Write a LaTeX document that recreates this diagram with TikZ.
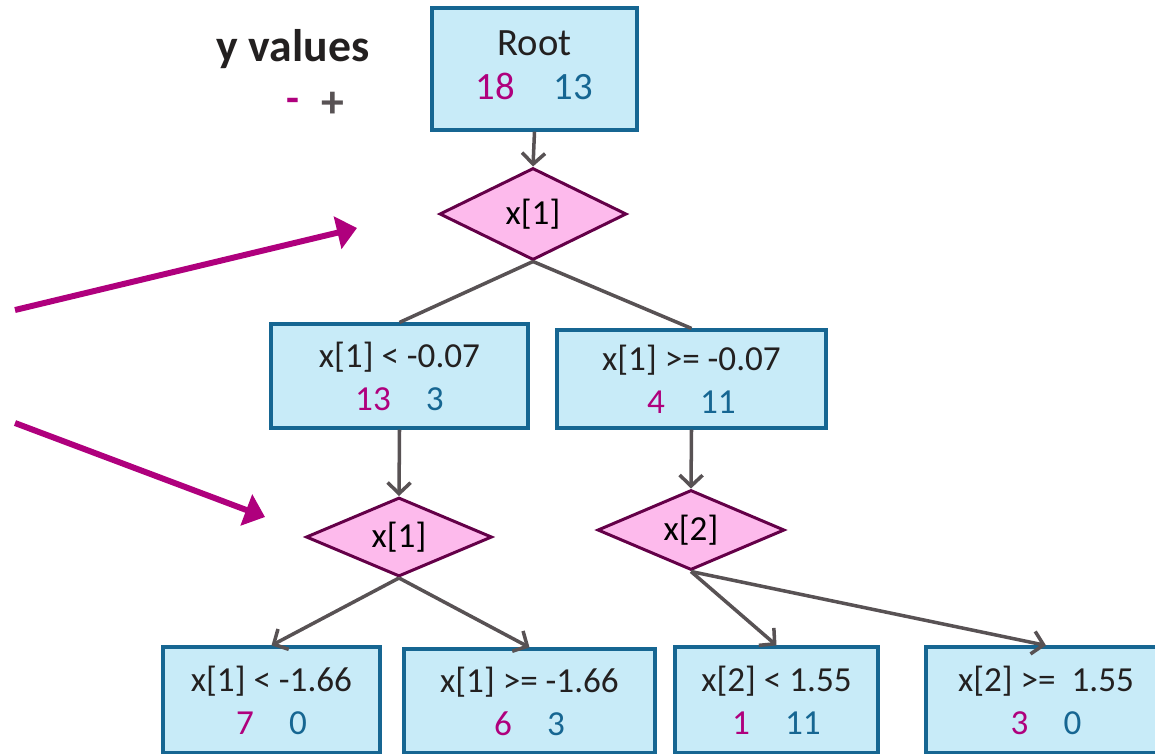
\documentclass[tikz,border=0pt]{standalone}
\usepackage{fontspec}
\setmainfont{Carlito}
\usetikzlibrary{arrows.meta,shapes.geometric}
\definecolor{skyfill}{RGB}{200,235,248}
\definecolor{sealine}{RGB}{22,102,146}
\definecolor{plum}{RGB}{175,0,125}
\definecolor{rosefill}{RGB}{253,186,236}
\definecolor{wine}{RGB}{100,0,72}
\definecolor{slate}{RGB}{88,82,84}
\definecolor{ink}{RGB}{35,32,32}
\newcommand{\counts}[2]{\textcolor{plum}{#1}\quad\textcolor{sealine}{#2}}
\tikzset{
  leaf/.style={draw=sealine,fill=skyfill,line width=1.8pt,inner sep=0pt,
    minimum width=#1,align=center,font=\fontsize{20}{24.4}\selectfont,text=ink},
  leaf/.default=5cm,
  split/.style={diamond,draw=wine,fill=rosefill,line width=1.7pt,aspect=2,
    inner sep=1pt,minimum width=3.74cm,minimum height=1.7cm,
    font=\fontsize{20}{24}\selectfont,text=black},
  edge/.style={draw=slate,line width=2pt},
  down/.style={edge,-{Straight Barb[length=2.2mm,width=4.6mm]}},
  pointer/.style={draw=plum,line width=3.4pt,-{Triangle[length=4mm,width=6.5mm]}},
}
\begin{document}
\begin{tikzpicture}
  \useasboundingbox (0,0) rectangle (23.1,-15.06);
  % legend
  \node[font=\fontsize{26}{30}\selectfont\bfseries,text=ink] (legend) at (5.86,-0.98) {y values};
  \node[font=\fontsize{24}{28}\selectfont\bfseries,text=plum] (neg) at (5.86,-2.1) {-};
  \node[font=\fontsize{26}{30}\selectfont\bfseries,text=slate] (pos) at (6.66,-2.1) {+};
  % tree
  \node[leaf=4.1cm,minimum height=2.44cm,font=\fontsize{22}{25}\selectfont] (root) at (10.69,-1.38) {Root\\\counts{18}{13}\\[-21pt]};
  \node[split,minimum height=1.84cm] (s1) at (10.66,-4.28) {x[1]};
  \node[leaf=5.14cm,minimum height=2.08cm] (l1) at (7.99,-7.52) {x[1] < -0.07\\\counts{13}{3}};
  \node[leaf=5.38cm,minimum height=1.96cm] (r1) at (13.83,-7.58) {x[1] >= -0.07\\\counts{4}{11}};
  \node[split,minimum height=1.58cm,minimum width=3.72cm] (s2) at (7.98,-10.74) {x[1]};
  \node[split,minimum height=1.6cm] (s3) at (13.82,-10.6) {x[2]};
  \node[leaf=4.34cm,minimum height=2.12cm] (ll) at (5.43,-14.0) {x[1] < -1.66\\\counts{7}{0}};
  \node[leaf=5.02cm,minimum height=2.08cm] (lr) at (10.59,-14.02) {x[1] >= -1.66\\\counts{6}{3}};
  \node[leaf=4.06cm,minimum height=2.12cm] (rl) at (15.53,-14.0) {x[2] < 1.55\\\counts{1}{11}};
  \node[leaf=4.8cm,minimum height=2.12cm] (rr) at (20.92,-14.0) {x[2] >=\ \ 1.55\\\counts{3}{0}};
  % connectors
  \draw[down] (root.south) -- (s1.north);
  \draw[edge] (s1.south) -- (l1.north);
  \draw[edge] (s1.south) -- (r1.north);
  \draw[down] (l1.south) -- (s2.north);
  \draw[down] (r1.south) -- (s3.north);
  \draw[down] (s2.south) -- (ll.north);
  \draw[down] (s2.south) -- (lr.north);
  \draw[down] (s3.south) -- (rl.north);
  \draw[down] (s3.south) -- (rr.north);
  % pointers from the left
  \coordinate (p1) at (0.3,-6.2);
  \coordinate (q1) at (7.14,-4.56);
  \coordinate (p2) at (0.3,-8.46);
  \coordinate (q2) at (5.3,-10.34);
  \draw[pointer] (p1) -- (q1);
  \draw[pointer] (p2) -- (q2);
\end{tikzpicture}
\end{document}
